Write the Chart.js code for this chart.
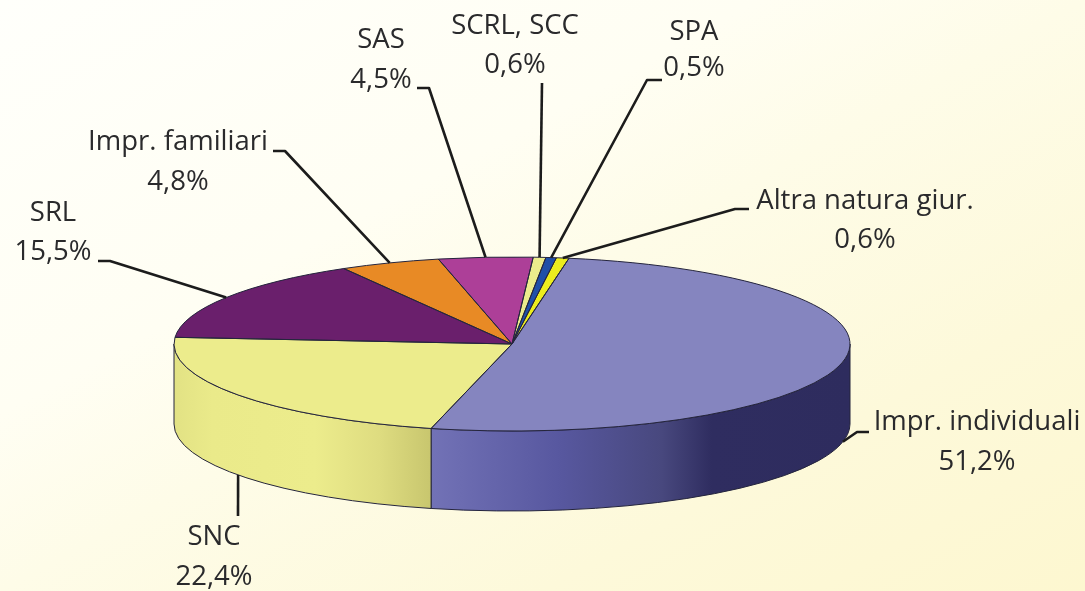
<!DOCTYPE html>
<html>
<head>
<meta charset="utf-8">
<style>
html,body{margin:0;padding:0;width:1085px;height:591px;overflow:hidden;
  background:linear-gradient(to bottom right,#fffffb 0%,#fffef3 35%,#fefce8 50%,#fdf9da 75%,#fdf7d0 100%);}
canvas{display:block;}
</style>
<script src="https://cdn.jsdelivr.net/npm/chart.js@4/dist/chart.umd.js"></script>
</head>
<body>
<canvas id="pie" width="1085" height="591"></canvas>
<script>
const categories = ['SCRL, SCC','SPA','Altra natura giur.','Impr. individuali','SNC','SRL','Impr. familiari','SAS'];
const shares = [0.6,0.5,0.6,51.2,22.4,15.5,4.8,4.5];
const topColors = ['#ecec8c','#1f4fa8','#ecec1e','#8585bf','#ecec8c','#6a1f6c','#e88a25','#ad3f98'];

// side wall gradients, only the two front slices show a wall
const wallStops = {
  3:[[0,'#7272b6'],[0.3,'#5858a0'],[0.55,'#48487e'],[0.67,'#2f2d60'],[1,'#2e2c5e']],
  4:[[0,'#e2e284'],[0.15,'#eaea8a'],[0.55,'#ecec8c'],[0.8,'#dedc80'],[1,'#c8c66e']]
};

// where each label sits and where its leader bends
const labelX = [515,694,865,977,214,53,178,381];
const nameY = [26,32,201,422,537,213,142,40];
const valueY = [65,68,240,462,577,252,182,80];
const elbows = [
  [[542,83]],
  [[647,80],[662,80]],
  [[735,209],[749,209]],
  [[857,432],[869,432]],
  [[238,516]],
  [[110,261],[98,261]],
  [[285,151],[273,151]],
  [[429,88],[417,88]]
];

const depth = 80;
const flatten = 87/338;

function ellipsePath(ctx,cx,cy,r,a0,a1,reverse){
  ctx.ellipse(cx,cy,r,r*flatten,0,a0,a1,reverse);
}

const pie3d = {
  id:'pie3d',
  beforeDatasetDraw(chart){
    const ctx = chart.ctx;
    const arcs = chart.getDatasetMeta(0).data;
    // wall first, then squash the library's own round pie into an ellipse
    arcs.forEach((arc,i)=>{
      if(!wallStops[i]) return;
      const a0 = Math.max(arc.startAngle,0);
      const a1 = Math.min(arc.endAngle,Math.PI);
      const {x,y,outerRadius:r} = arc;
      const left = x+r*Math.cos(a1), right = x+r*Math.cos(a0);
      const g = ctx.createLinearGradient(left,0,right,0);
      wallStops[i].forEach(s=>g.addColorStop(s[0],s[1]));
      ctx.fillStyle = g;
      ctx.beginPath();
      ellipsePath(ctx,x,y,r,a0,a1,false);
      ellipsePath(ctx,x,y+depth,r,a1,a0,true);
      ctx.closePath();
      ctx.fill();
      ctx.strokeStyle = '#24243c';
      ctx.lineWidth = 1;
      ctx.stroke();
    });
    ctx.save();
    const c = arcs[0];
    ctx.translate(c.x,c.y);
    ctx.scale(1,flatten);
    ctx.translate(-c.x,-c.y);
  },
  afterDatasetDraw(chart){
    const ctx = chart.ctx;
    ctx.restore();
    ctx.strokeStyle = '#24243c';
    ctx.lineWidth = 1;
    chart.getDatasetMeta(0).data.forEach(arc=>{
      ctx.beginPath();
      ctx.moveTo(arc.x,arc.y);
      // angles on the squashed circle stay the same in ellipse() parameter space
      ellipsePath(ctx,arc.x,arc.y,arc.outerRadius,arc.startAngle,arc.endAngle,false);
      ctx.closePath();
      ctx.stroke();
    });
  },
  afterDraw(chart){
    const ctx = chart.ctx;
    const arcs = chart.getDatasetMeta(0).data;
    ctx.save();
    ctx.strokeStyle = '#1c1c1c';
    ctx.lineWidth = 2.6;
    ctx.lineJoin = 'round';
    arcs.forEach((arc,i)=>{
      const mid = (arc.startAngle+arc.endAngle)/2;
      const px = arc.x+arc.outerRadius*Math.cos(mid);
      let py = arc.y+arc.outerRadius*flatten*Math.sin(mid);
      if(Math.sin(mid)>0) py += depth;
      ctx.beginPath();
      ctx.moveTo(px,py);
      elbows[i].forEach(p=>ctx.lineTo(p[0],p[1]));
      ctx.stroke();
    });
    ctx.fillStyle = '#2a2a2c';
    ctx.font = '27.5px "Open Sans"';
    ctx.textAlign = 'center';
    ctx.textBaseline = 'middle';
    categories.forEach((name,i)=>{
      ctx.fillText(name,labelX[i],nameY[i]);
      ctx.fillText(shares[i].toFixed(1).replace('.',',')+'%',labelX[i],valueY[i]);
    });
    ctx.restore();
  }
};

new Chart(document.getElementById('pie'),{
  type:'pie',
  data:{
    labels:categories,
    datasets:[{data:shares,backgroundColor:topColors,borderWidth:0,clip:false}]
  },
  options:{
    responsive:false,
    animation:false,
    rotation:3.6,
    radius:338,
    layout:{padding:{left:0,right:61,top:97,bottom:0}},
    plugins:{legend:{display:false},tooltip:{enabled:false}}
  },
  plugins:[pie3d]
});
</script>
</body>
</html>
